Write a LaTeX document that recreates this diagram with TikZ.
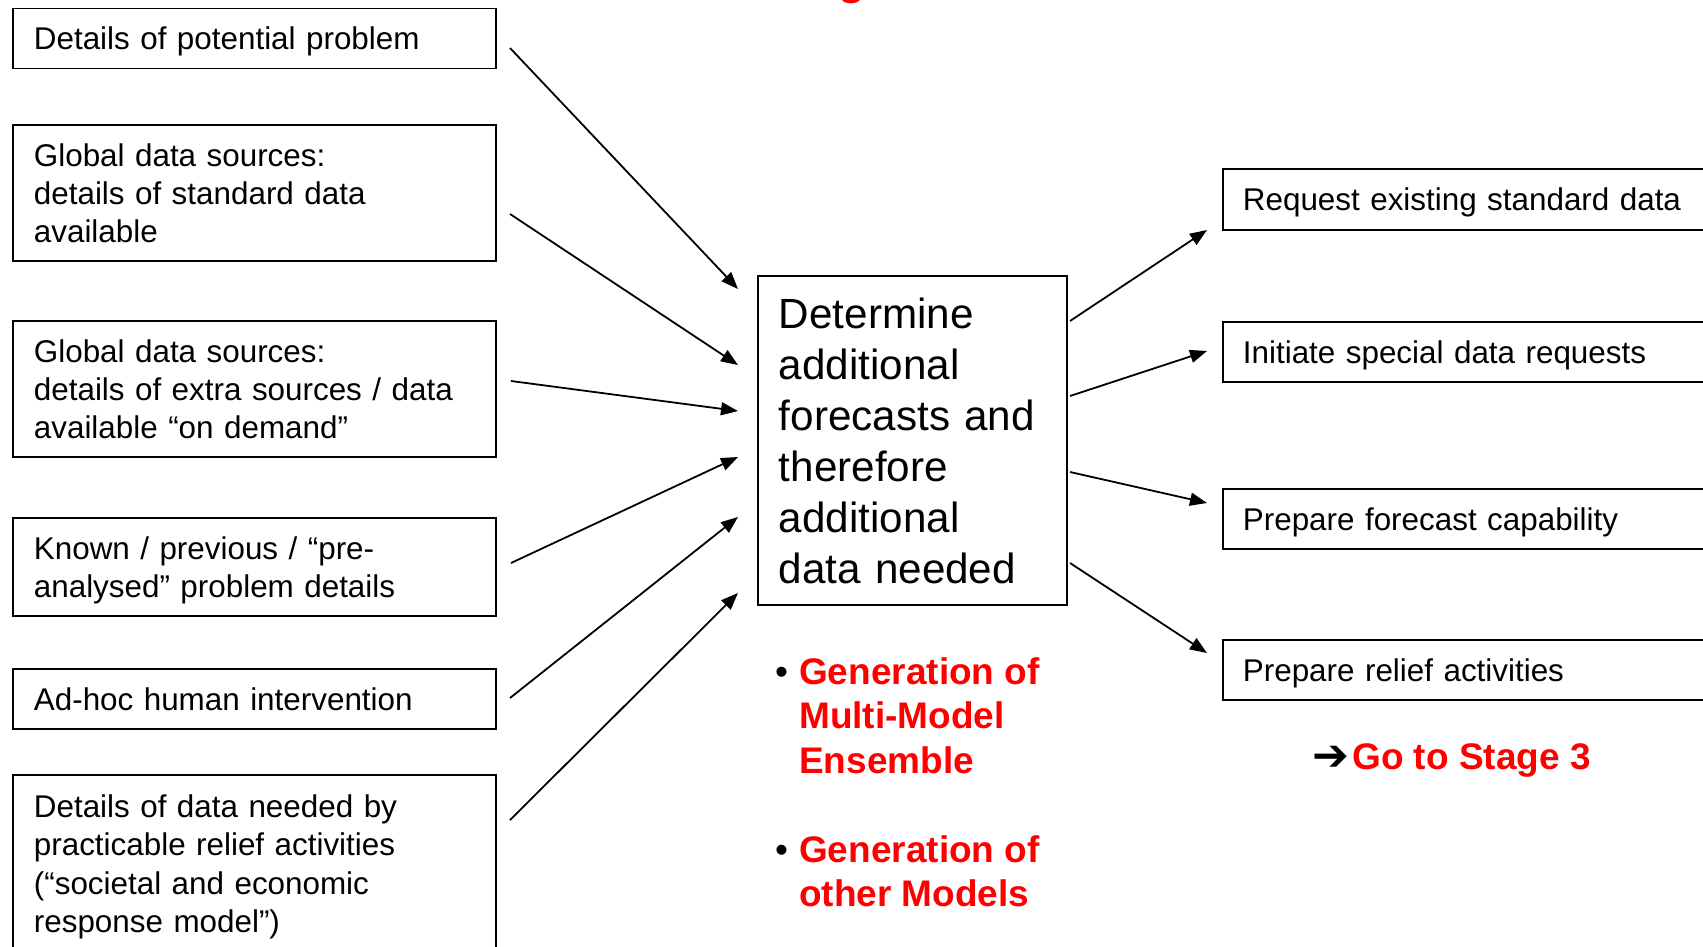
\documentclass[tikz,border=0pt]{standalone}
\usepackage{fontspec}
\setmainfont{Liberation Sans}
\newfontfamily\symfont{DejaVu Sans}
\usetikzlibrary{arrows.meta}
\definecolor{redtxt}{RGB}{255,0,0}
\newcommand{\bs}{\rule[-0.2\baselineskip]{0pt}{\baselineskip}}
\begin{document}
\begin{tikzpicture}[x=1pt,y=-1pt,
  lbox/.style={draw=black, line width=1.8pt, anchor=north west, inner ysep=0pt, inner xsep=21pt,
    text width=441pt, align=left, font=\fontsize{31.4}{38.4}\selectfont},
  cbox/.style={draw=black, line width=1.8pt, anchor=north west, inner ysep=0pt, inner xsep=21pt,
    text width=267pt, align=left, font=\fontsize{42.2}{51}\selectfont},
  rbox/.style={draw=black, line width=1.8pt, anchor=north west, inner ysep=0pt, inner xsep=20pt,
    text width=480pt, align=left, font=\fontsize{31.4}{38.4}\selectfont},
  redt/.style={anchor=base west, inner sep=0pt, text=redtxt,
    font=\fontsize{37}{44.5}\selectfont\bfseries},
  bul/.style={anchor=base west, inner sep=0pt, font=\fontsize{37}{44.5}\selectfont},
  arr/.style={line width=1.8pt, -{Triangle[length=17pt,width=13pt]}}
]
\useasboundingbox (0,0) rectangle (1703,946);
\fill[white] (0,0) rectangle (1703,946);

% cut-off title fragment
\node[anchor=base west, inner sep=0pt, text=redtxt, font=\fontsize{44}{52}\selectfont\bfseries] (title) at (838,-6) {g};

% left boxes
\node[lbox, minimum height=60pt] (b1) at (12,7.5) {\bs Details of potential problem\bs};
\node[lbox, minimum height=136pt] (b2) at (12,124) {\bs Global data sources:\\details of standard data\\available\bs};
\node[lbox, minimum height=136pt] (b3) at (12,320) {\bs Global data sources:\\details of extra sources / data\\available “on demand”\bs};
\node[lbox, minimum height=98pt] (b4) at (12,517) {\bs Known / previous / “pre-\\analysed” problem details\bs};
\node[lbox, minimum height=60pt] (b5) at (12,668) {\bs Ad-hoc human intervention\bs};
\node[lbox, minimum height=177pt] (b6) at (12,774) {\bs Details of data needed by\\practicable relief activities\\(“societal and economic\\response model”)\bs};

% centre box
\node[cbox, minimum height=329pt] (c) at (757,275) {\bs Determine\\additional\\forecasts and\\therefore\\additional\\data needed\bs};

% right boxes
\node[rbox, minimum height=61pt] (r1) at (1222,168) {\bs Request existing standard data\bs};
\node[rbox, minimum height=60pt] (r2) at (1222,321) {\bs Initiate special data requests\bs};
\node[rbox, minimum height=60pt] (r3) at (1222,488) {\bs Prepare forecast capability\bs};
\node[rbox, minimum height=60pt] (r4) at (1222,639) {\bs Prepare relief activities\bs};

% red bullets
\node[bul] (bu1) at (775,684) {•};
\node[redt] (g1) at (799,684) {\begin{tabular}[t]{@{}l@{}}Generation of\\Multi-Model\\Ensemble\end{tabular}};
\node[bul] (bu2) at (775,862) {•};
\node[redt] (g2) at (799,862) {\begin{tabular}[t]{@{}l@{}}Generation of\\other Models\end{tabular}};

% go to stage 3
\node[anchor=base west, inner sep=0pt, font=\fontsize{44}{50}\selectfont\symfont\bfseries] (ga) at (1312,770) {➔};
\node[redt] (go) at (1352,769) {Go to Stage 3};

% connector end points
\coordinate (l1s) at (510,48);  \coordinate (l1e) at (738,289);
\coordinate (l2s) at (510,214); \coordinate (l2e) at (738,365);
\coordinate (l3s) at (511,381); \coordinate (l3e) at (738,411);
\coordinate (l4s) at (511,563); \coordinate (l4e) at (738,457);
\coordinate (l5s) at (510,698); \coordinate (l5e) at (738,517);
\coordinate (l6s) at (510,820); \coordinate (l6e) at (738,593);
\coordinate (r1s) at (1070,321); \coordinate (r1e) at (1207,230);
\coordinate (r2s) at (1070,396); \coordinate (r2e) at (1207,351);
\coordinate (r3s) at (1070,472); \coordinate (r3e) at (1207,503);
\coordinate (r4s) at (1070,563); \coordinate (r4e) at (1207,653);

\foreach \i in {1,...,6} \draw[arr] (l\i s) -- (l\i e);
\foreach \i in {1,...,4} \draw[arr] (r\i s) -- (r\i e);
\end{tikzpicture}
\end{document}
